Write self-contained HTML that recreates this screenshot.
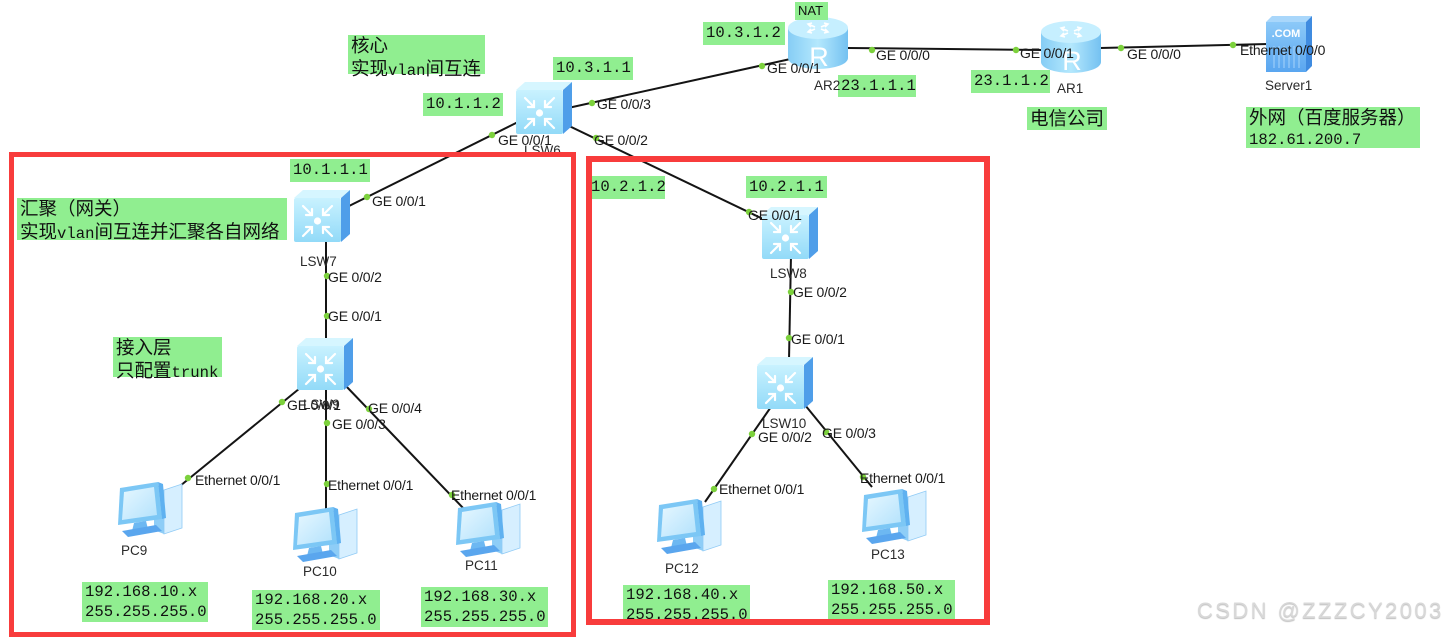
<!DOCTYPE html>
<html><head><meta charset="utf-8">
<style>
html,body{margin:0;padding:0;background:#fff;}
#c{position:relative;width:1455px;height:640px;overflow:hidden;background:#fff;}
svg{position:absolute;left:0;top:0;}
.g{position:absolute;background:#90ee90;color:#111;font-family:"Liberation Mono","Noto Sans CJK SC",monospace;font-size:15.6px;line-height:23px;padding-left:3px;box-sizing:border-box;white-space:nowrap;}
.g2{line-height:20px;padding-top:0px;}
.cn{font-family:"Noto Sans CJK SC","WenQuanYi Zen Hei",sans-serif;font-size:18.5px;}
.p{position:absolute;font-family:"Liberation Sans",Arial,sans-serif;font-size:14px;line-height:16px;color:#1a1a1a;white-space:nowrap;letter-spacing:-0.2px;}
.d{position:absolute;font-family:"Liberation Sans",Arial,sans-serif;font-size:13.5px;line-height:16px;color:#2a2a2a;white-space:nowrap;}
.rb{position:absolute;border:5px solid #f83c3c;box-sizing:border-box;}
.wm{position:absolute;left:1197px;top:598px;font-family:"Liberation Sans",Arial,sans-serif;font-size:22px;letter-spacing:2.4px;color:#d8d8d8;text-shadow:0 1px 1px #bdbdbd;white-space:nowrap;}
</style></head><body><div id="c">
<svg width="1455" height="640" viewBox="0 0 1455 640" xmlns="http://www.w3.org/2000/svg">
<defs>
<linearGradient id="swf" x1="0" y1="0" x2="0" y2="1"><stop offset="0" stop-color="#c9f2ff"/><stop offset="1" stop-color="#92daf8"/></linearGradient>
<linearGradient id="rg" x1="0" y1="0" x2="1" y2="0"><stop offset="0" stop-color="#86cdf5"/><stop offset="0.5" stop-color="#b4e8fd"/><stop offset="1" stop-color="#74c1f1"/></linearGradient>
<linearGradient id="sv" x1="0" y1="0" x2="0" y2="1"><stop offset="0" stop-color="#8cc9f8"/><stop offset="1" stop-color="#5aa6f0"/></linearGradient>
<linearGradient id="scr" x1="0" y1="0" x2="1" y2="1"><stop offset="0" stop-color="#e6f7ff"/><stop offset="1" stop-color="#b3e2fc"/></linearGradient>
</defs>
<!-- links -->
<g stroke="#141414" stroke-width="2" fill="none">
<line x1="568" y1="108" x2="795" y2="58"/>
<line x1="848" y1="48" x2="1042" y2="50"/>
<line x1="1100" y1="48" x2="1268" y2="44"/>
<line x1="518" y1="122" x2="345" y2="208"/>
<line x1="565" y1="124" x2="765" y2="220"/>
<line x1="326" y1="240" x2="326" y2="340"/>
<line x1="305" y1="384" x2="180" y2="486"/>
<line x1="326" y1="389" x2="326" y2="512"/>
<line x1="345" y1="385" x2="465" y2="510"/>
<line x1="791" y1="255" x2="789" y2="360"/>
<line x1="773" y1="404" x2="705" y2="502"/>
<line x1="805" y1="405" x2="872" y2="487"/>
</g>
<!-- port dots -->
<g fill="#7cd13c">
<circle cx="592" cy="103" r="3.2"/><circle cx="762" cy="66" r="3.2"/>
<circle cx="872" cy="50" r="3.2"/><circle cx="1016" cy="50" r="3.2"/>
<circle cx="1121" cy="48" r="3.2"/><circle cx="1233" cy="45" r="3.2"/>
<circle cx="492" cy="135" r="3.2"/><circle cx="367" cy="197" r="3.2"/>
<circle cx="596" cy="138" r="3.2"/><circle cx="749" cy="212" r="3.2"/>
<circle cx="327" cy="276" r="3.2"/><circle cx="327" cy="316" r="3.2"/>
<circle cx="282" cy="402" r="3.2"/><circle cx="188" cy="478" r="3.2"/>
<circle cx="327" cy="423" r="3.2"/><circle cx="327" cy="484" r="3.2"/>
<circle cx="369" cy="409" r="3.2"/><circle cx="452" cy="495" r="3.2"/>
<circle cx="791" cy="292" r="3.2"/><circle cx="789" cy="338" r="3.2"/>
<circle cx="752" cy="434" r="3.2"/><circle cx="714" cy="489" r="3.2"/>
<circle cx="826" cy="432" r="3.2"/><circle cx="863" cy="477" r="3.2"/>
</g>

<!-- switches -->
<g transform="translate(516,82)">
<polygon points="0,8 9,0 56,0 47,8" fill="#d6f6ff"/><polygon points="47,8 56,0 56,44 47,52" fill="#4f9ee9"/>
<rect x="0" y="8" width="47" height="44" rx="2" fill="url(#swf)"/>
<g stroke="#fff" stroke-width="2.2" fill="none" stroke-linecap="round"><path d="M9,16 L18,25 M18,19 L18,25 L12,25"/><path d="M38,16 L29,25 M29,19 L29,25 L35,25"/><path d="M9,46 L18,37 M18,43 L18,37 L12,37"/><path d="M38,46 L29,37 M29,43 L29,37 L35,37"/></g>
<circle cx="23.5" cy="31" r="3.6" fill="#fff"/></g>
<g transform="translate(294,190)">
<polygon points="0,8 9,0 56,0 47,8" fill="#d6f6ff"/><polygon points="47,8 56,0 56,44 47,52" fill="#4f9ee9"/>
<rect x="0" y="8" width="47" height="44" rx="2" fill="url(#swf)"/>
<g stroke="#fff" stroke-width="2.2" fill="none" stroke-linecap="round"><path d="M9,16 L18,25 M18,19 L18,25 L12,25"/><path d="M38,16 L29,25 M29,19 L29,25 L35,25"/><path d="M9,46 L18,37 M18,43 L18,37 L12,37"/><path d="M38,46 L29,37 M29,43 L29,37 L35,37"/></g>
<circle cx="23.5" cy="31" r="3.6" fill="#fff"/></g>
<g transform="translate(297,338)">
<polygon points="0,8 9,0 56,0 47,8" fill="#d6f6ff"/><polygon points="47,8 56,0 56,44 47,52" fill="#4f9ee9"/>
<rect x="0" y="8" width="47" height="44" rx="2" fill="url(#swf)"/>
<g stroke="#fff" stroke-width="2.2" fill="none" stroke-linecap="round"><path d="M9,16 L18,25 M18,19 L18,25 L12,25"/><path d="M38,16 L29,25 M29,19 L29,25 L35,25"/><path d="M9,46 L18,37 M18,43 L18,37 L12,37"/><path d="M38,46 L29,37 M29,43 L29,37 L35,37"/></g>
<circle cx="23.5" cy="31" r="3.6" fill="#fff"/></g>
<g transform="translate(762,207)">
<polygon points="0,8 9,0 56,0 47,8" fill="#d6f6ff"/><polygon points="47,8 56,0 56,44 47,52" fill="#4f9ee9"/>
<rect x="0" y="8" width="47" height="44" rx="2" fill="url(#swf)"/>
<g stroke="#fff" stroke-width="2.2" fill="none" stroke-linecap="round"><path d="M9,16 L18,25 M18,19 L18,25 L12,25"/><path d="M38,16 L29,25 M29,19 L29,25 L35,25"/><path d="M9,46 L18,37 M18,43 L18,37 L12,37"/><path d="M38,46 L29,37 M29,43 L29,37 L35,37"/></g>
<circle cx="23.5" cy="31" r="3.6" fill="#fff"/></g>
<g transform="translate(757,357)">
<polygon points="0,8 9,0 56,0 47,8" fill="#d6f6ff"/><polygon points="47,8 56,0 56,44 47,52" fill="#4f9ee9"/>
<rect x="0" y="8" width="47" height="44" rx="2" fill="url(#swf)"/>
<g stroke="#fff" stroke-width="2.2" fill="none" stroke-linecap="round"><path d="M9,16 L18,25 M18,19 L18,25 L12,25"/><path d="M38,16 L29,25 M29,19 L29,25 L35,25"/><path d="M9,46 L18,37 M18,43 L18,37 L12,37"/><path d="M38,46 L29,37 M29,43 L29,37 L35,37"/></g>
<circle cx="23.5" cy="31" r="3.6" fill="#fff"/></g>

<!-- routers -->
<g transform="translate(788,16)">
<path d="M0,12 L0,42 A30,11 0 0 0 60,42 L60,12 Z" fill="url(#rg)"/>
<ellipse cx="30" cy="12" rx="30" ry="11" fill="#c6efff"/>
<g stroke="#fff" stroke-width="1.6" fill="none"><path d="M20,8 L27,11 M24,7 L20,8 L23,11"/><path d="M40,8 L33,11 M36,7 L40,8 L37,11"/><path d="M20,16 L27,13 M23,13 L20,16 L24,17"/><path d="M40,16 L33,13 M37,13 L40,16 L36,17"/></g>
<text x="31" y="50" font-family="Liberation Sans,Arial,sans-serif" font-size="27" fill="#fff" text-anchor="middle">R</text></g>
<g transform="translate(1041,20)">
<path d="M0,12 L0,42 A30,11 0 0 0 60,42 L60,12 Z" fill="url(#rg)"/>
<ellipse cx="30" cy="12" rx="30" ry="11" fill="#c6efff"/>
<g stroke="#fff" stroke-width="1.6" fill="none"><path d="M20,8 L27,11 M24,7 L20,8 L23,11"/><path d="M40,8 L33,11 M36,7 L40,8 L37,11"/><path d="M20,16 L27,13 M23,13 L20,16 L24,17"/><path d="M40,16 L33,13 M37,13 L40,16 L36,17"/></g>
<text x="31" y="50" font-family="Liberation Sans,Arial,sans-serif" font-size="27" fill="#fff" text-anchor="middle">R</text></g>

<!-- server -->
<g transform="translate(1266,16)">
<polygon points="0,6 6,0 46,0 40,6" fill="#a9d7fb"/>
<polygon points="40,6 46,0 46,50 40,56" fill="#3f8be0"/>
<rect x="0" y="6" width="40" height="50" fill="url(#sv)"/>
<text x="20" y="21" font-family="Liberation Sans,Arial,sans-serif" font-size="11" font-weight="bold" fill="#fff" text-anchor="middle">.COM</text>
<g stroke="#a6d3fa" stroke-width="1"><line x1="8" y1="30" x2="8" y2="52"/><line x1="13" y1="30" x2="13" y2="52"/><line x1="18" y1="30" x2="18" y2="52"/><line x1="23" y1="30" x2="23" y2="52"/><line x1="28" y1="30" x2="28" y2="52"/><line x1="33" y1="30" x2="33" y2="52"/></g></g>

<!-- PCs -->
<g id="pc9" transform="translate(114,478)">
<polygon points="40,8 50,12 50,56 40,52" fill="#8ecdf7"/><polygon points="50,12 68,6 68,50 50,56" fill="#d6efff" stroke="#8fcaf5" stroke-width="0.8"/>
<polygon points="44,4 49,6 52,40 48,41" fill="#5fb1f0"/>
<polygon points="6,10 44,4 48,41 4,47" fill="#7cc7f5"/><polygon points="10,14 40,9 43,37 8,42" fill="url(#scr)"/>
<polygon points="20,45 32,43 34,51 18,53" fill="#6db8f2"/><polygon points="8,53 42,47 48,53 14,59" fill="#5aa6ee"/></g>
<g transform="translate(289,503)">
<polygon points="40,8 50,12 50,56 40,52" fill="#8ecdf7"/><polygon points="50,12 68,6 68,50 50,56" fill="#d6efff" stroke="#8fcaf5" stroke-width="0.8"/>
<polygon points="44,4 49,6 52,40 48,41" fill="#5fb1f0"/>
<polygon points="6,10 44,4 48,41 4,47" fill="#7cc7f5"/><polygon points="10,14 40,9 43,37 8,42" fill="url(#scr)"/>
<polygon points="20,45 32,43 34,51 18,53" fill="#6db8f2"/><polygon points="8,53 42,47 48,53 14,59" fill="#5aa6ee"/></g>
<g transform="translate(452,498)">
<polygon points="40,8 50,12 50,56 40,52" fill="#8ecdf7"/><polygon points="50,12 68,6 68,50 50,56" fill="#d6efff" stroke="#8fcaf5" stroke-width="0.8"/>
<polygon points="44,4 49,6 52,40 48,41" fill="#5fb1f0"/>
<polygon points="6,10 44,4 48,41 4,47" fill="#7cc7f5"/><polygon points="10,14 40,9 43,37 8,42" fill="url(#scr)"/>
<polygon points="20,45 32,43 34,51 18,53" fill="#6db8f2"/><polygon points="8,53 42,47 48,53 14,59" fill="#5aa6ee"/></g>
<g transform="translate(653,495)">
<polygon points="40,8 50,12 50,56 40,52" fill="#8ecdf7"/><polygon points="50,12 68,6 68,50 50,56" fill="#d6efff" stroke="#8fcaf5" stroke-width="0.8"/>
<polygon points="44,4 49,6 52,40 48,41" fill="#5fb1f0"/>
<polygon points="6,10 44,4 48,41 4,47" fill="#7cc7f5"/><polygon points="10,14 40,9 43,37 8,42" fill="url(#scr)"/>
<polygon points="20,45 32,43 34,51 18,53" fill="#6db8f2"/><polygon points="8,53 42,47 48,53 14,59" fill="#5aa6ee"/></g>
<g transform="translate(858,485)">
<polygon points="40,8 50,12 50,56 40,52" fill="#8ecdf7"/><polygon points="50,12 68,6 68,50 50,56" fill="#d6efff" stroke="#8fcaf5" stroke-width="0.8"/>
<polygon points="44,4 49,6 52,40 48,41" fill="#5fb1f0"/>
<polygon points="6,10 44,4 48,41 4,47" fill="#7cc7f5"/><polygon points="10,14 40,9 43,37 8,42" fill="url(#scr)"/>
<polygon points="20,45 32,43 34,51 18,53" fill="#6db8f2"/><polygon points="8,53 42,47 48,53 14,59" fill="#5aa6ee"/></g>
</svg>

<!-- green labels -->
<div class="g g2" style="left:348px;top:35px;width:137px;height:39px;"><span class="cn">核心</span><br><span class="cn">实现</span>vlan<span class="cn">间互连</span></div>
<div class="g" style="left:703px;top:22px;width:82px;height:23px;">10.3.1.2</div>
<div class="g" style="left:795px;top:2px;width:33px;height:18px;line-height:18px;font-family:'Liberation Sans',Arial,sans-serif;font-size:13px;">NAT</div>
<div class="g" style="left:553px;top:57px;width:80px;height:23px;">10.3.1.1</div>
<div class="g" style="left:423px;top:93px;width:80px;height:23px;">10.1.1.2</div>
<div class="g" style="left:838px;top:75px;width:78px;height:22px;line-height:22px;">23.1.1.1</div>
<div class="g" style="left:971px;top:70px;width:79px;height:23px;">23.1.1.2</div>
<div class="g" style="left:1027px;top:107px;width:80px;height:23px;"><span class="cn">电信公司</span></div>
<div class="g g2" style="left:1246px;top:107px;width:174px;height:41px;"><span class="cn">外网（百度服务器）</span><br>182.61.200.7</div>
<div class="g" style="left:290px;top:159px;width:80px;height:23px;">10.1.1.1</div>
<div class="g g2" style="left:17px;top:198px;width:270px;height:42px;"><span class="cn">汇聚（网关）</span><br><span class="cn">实现</span>vlan<span class="cn">间互连并汇聚各自网络</span></div>
<div class="g g2" style="left:113px;top:337px;width:109px;height:40px;"><span class="cn">接入层</span><br><span class="cn">只配置</span>trunk</div>
<div class="g" style="left:588px;top:176px;width:77px;height:23px;">10.2.1.2</div>
<div class="g" style="left:746px;top:176px;width:81px;height:22px;line-height:22px;">10.2.1.1</div>
<div class="g g2" style="left:82px;top:582px;width:126px;height:40px;">192.168.10.x<br>255.255.255.0</div>
<div class="g g2" style="left:252px;top:590px;width:128px;height:40px;">192.168.20.x<br>255.255.255.0</div>
<div class="g g2" style="left:421px;top:587px;width:127px;height:40px;">192.168.30.x<br>255.255.255.0</div>
<div class="g g2" style="left:623px;top:585px;width:127px;height:40px;">192.168.40.x<br>255.255.255.0</div>
<div class="g g2" style="left:828px;top:580px;width:127px;height:40px;">192.168.50.x<br>255.255.255.0</div>

<!-- port labels -->
<div class="p" style="left:597px;top:96px;">GE 0/0/3</div>
<div class="p" style="left:594px;top:132px;">GE 0/0/2</div>
<div class="p" style="left:498px;top:132px;">GE 0/0/1</div>
<div class="p" style="left:767px;top:60px;">GE 0/0/1</div>
<div class="p" style="left:876px;top:47px;">GE 0/0/0</div>
<div class="p" style="left:1020px;top:45px;">GE 0/0/1</div>
<div class="p" style="left:1127px;top:46px;">GE 0/0/0</div>
<div class="p" style="left:1240px;top:42px;">Ethernet 0/0/0</div>
<div class="p" style="left:372px;top:193px;">GE 0/0/1</div>
<div class="p" style="left:328px;top:269px;">GE 0/0/2</div>
<div class="p" style="left:328px;top:308px;">GE 0/0/1</div>
<div class="p" style="left:287px;top:397px;">GE 0/0/1</div>
<div class="p" style="left:368px;top:400px;">GE 0/0/4</div>
<div class="p" style="left:332px;top:416px;">GE 0/0/3</div>
<div class="p" style="left:195px;top:472px;">Ethernet 0/0/1</div>
<div class="p" style="left:328px;top:477px;">Ethernet 0/0/1</div>
<div class="p" style="left:451px;top:487px;">Ethernet 0/0/1</div>
<div class="p" style="left:748px;top:207px;">GE 0/0/1</div>
<div class="p" style="left:793px;top:284px;">GE 0/0/2</div>
<div class="p" style="left:791px;top:331px;">GE 0/0/1</div>
<div class="p" style="left:758px;top:429px;">GE 0/0/2</div>
<div class="p" style="left:822px;top:425px;">GE 0/0/3</div>
<div class="p" style="left:719px;top:481px;">Ethernet 0/0/1</div>
<div class="p" style="left:860px;top:470px;">Ethernet 0/0/1</div>

<!-- device labels -->
<div class="d" style="left:524px;top:143px;">LSW6</div>
<div class="d" style="left:814px;top:78px;">AR2</div>
<div class="d" style="left:1057px;top:81px;">AR1</div>
<div class="d" style="left:1265px;top:78px;">Server1</div>
<div class="d" style="left:300px;top:254px;">LSW7</div>
<div class="d" style="left:303px;top:397px;">LSW9</div>
<div class="d" style="left:770px;top:266px;">LSW8</div>
<div class="d" style="left:762px;top:416px;">LSW10</div>
<div class="d" style="left:121px;top:543px;">PC9</div>
<div class="d" style="left:303px;top:564px;">PC10</div>
<div class="d" style="left:465px;top:558px;">PC11</div>
<div class="d" style="left:665px;top:561px;">PC12</div>
<div class="d" style="left:871px;top:547px;">PC13</div>

<!-- red boxes -->
<div class="rb" style="left:9px;top:152px;width:567px;height:485px;"></div>
<div class="rb" style="left:586px;top:156px;width:404px;height:469px;border-width:6px;"></div>

<div class="wm">CSDN @ZZZCY2003</div>
</div></body></html>
